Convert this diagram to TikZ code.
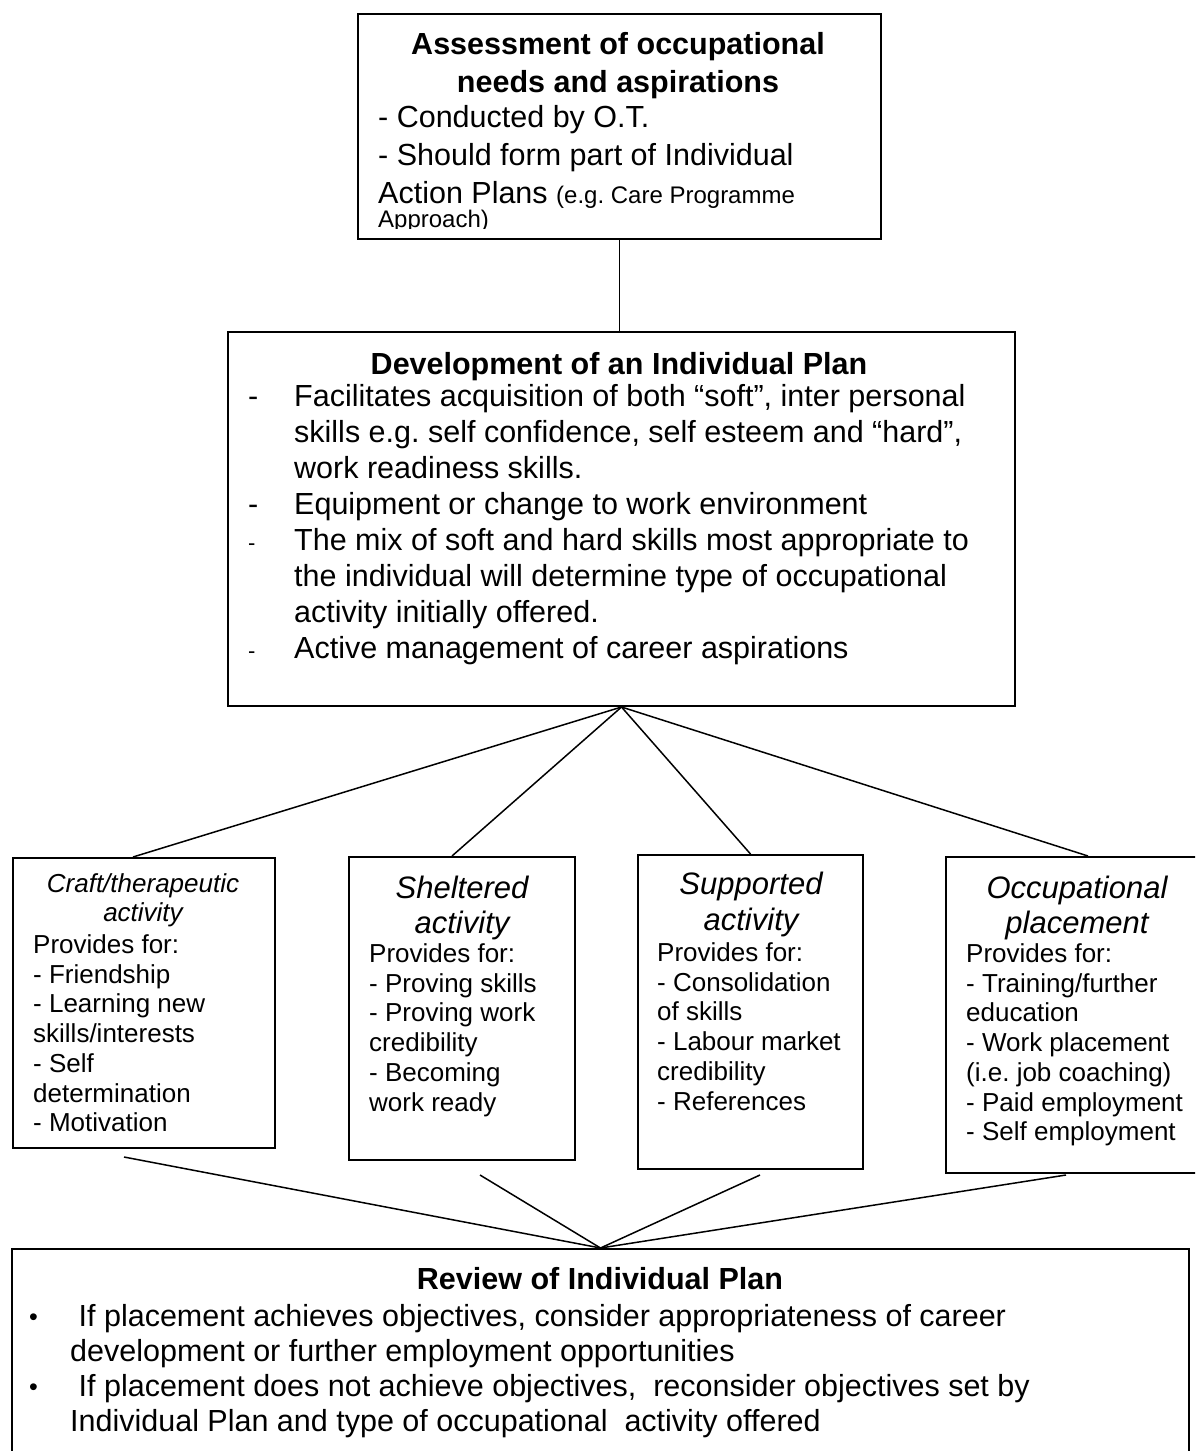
\documentclass[tikz,border=0pt]{standalone}
\usepackage{fontspec}
\setmainfont{Liberation Sans}
\usetikzlibrary{calc}
\frenchspacing

\begin{document}
\begin{tikzpicture}[x=1pt,y=-1pt,
		box/.style={draw,line width=2pt,inner sep=0,anchor=north west},
		wire/.style={line width=1.5pt},
		body/.style={anchor=base west,align=left,inner sep=0,font=\fontsize{30.5}{36}\selectfont},
		head/.style={anchor=base,align=center,inner sep=0,font=\bfseries\fontsize{30.5}{38}\selectfont},
		lines/.style={anchor=base west,align=left,inner sep=0,font=\fontsize{26}{29.7}\selectfont},
		kind/.style={anchor=base,align=center,inner sep=0,font=\itshape\fontsize{31}{35.5}\selectfont}]
		\useasboundingbox (0,0) rectangle (1195,1451);
		\clip (0,0) rectangle (1195,1451);

		% boxes
		\node[box,minimum width=523,minimum height=225] (assess) at (357,13) {};
		\node[box,minimum width=787,minimum height=374] (plan) at (227,331) {};
		\node[box,minimum width=262,minimum height=290] (craft) at (12,857) {};
		\node[box,minimum width=226,minimum height=303] (shelter) at (348,856) {};
		\node[box,minimum width=225,minimum height=314] (support) at (637,854) {};
		\node[box,minimum width=270,minimum height=316] (place) at (945,856) {};
		\node[box,minimum width=1177,minimum height=230] (review) at (11,1248) {};

		% assessment text, cut off by the box
		% (base of a text block = baseline of its last line)
		\begin{scope}
			\clip (357,13) rectangle (880,228);
			\node[head] (assesshead) at (618,92) {Assessment of occupational\\needs and aspirations};
			\node[body,font=\fontsize{30.5}{38}\selectfont] (assesstext) at (378,227)
				{- Conducted by O.T.\\- Should form part of Individual\\Action Plans {\fontsize{24}{29}\selectfont(e.g. Care Programme}\\[-14pt]{\fontsize{24}{29}\selectfont Approach)}};
		\end{scope}

		% plan text
		\node[head] (planhead) at (619,374) {Development of an Individual Plan};
		\node[body] (plandash) at (248,658) {-\\\mbox{}\\\mbox{}\\-\\{\fontsize{22}{22}\selectfont -}\\\mbox{}\\\mbox{}\\{\fontsize{22}{22}\selectfont -}};
		\node[body] (plantext) at (294,658) {Facilitates acquisition of both “soft”, inter personal\\skills e.g. self confidence, self esteem and “hard”,\\work readiness skills.\\Equipment or change to work environment\\The mix of soft and hard skills most appropriate to\\the individual will determine type of occupational\\activity initially offered.\\Active management of career aspirations};

		% activity boxes
		\node[kind,font=\itshape\fontsize{26}{29.5}\selectfont] (crafthead) at (143,921.5) {Craft/therapeutic\\activity};
		\node[lines] (crafttext) at (33,1131.7) {Provides for:\\- Friendship\\- Learning new\\skills/interests\\- Self\\determination\\- Motivation};

		\node[kind] (shelterhead) at (462,933.5) {Sheltered\\activity};
		\node[lines] (sheltertext) at (369,1111) {Provides for:\\- Proving skills\\- Proving work\\credibility\\- Becoming\\work ready};

		\node[kind,font=\itshape\fontsize{31}{36}\selectfont] (supporthead) at (751,930) {Supported\\activity};
		\node[lines] (supporttext) at (657,1110) {Provides for:\\- Consolidation\\of skills\\- Labour market\\credibility\\- References};

		\node[kind] (placehead) at (1077,933.5) {Occupational\\placement};
		\node[lines] (placetext) at (966,1140.7) {Provides for:\\- Training/further\\education\\- Work placement\\(i.e. job coaching)\\- Paid employment\\- Self employment};

		% review text
		\node[head] (reviewhead) at (600,1289) {Review of Individual Plan};
		\node[body,font=\fontsize{25}{35}\selectfont] (reviewdot) at (29,1395) {•\\\mbox{}\\•};
		\node[body,font=\fontsize{30.5}{35}\selectfont] (reviewtext) at (70,1431) {\ If placement achieves objectives, consider appropriateness of career\\development or further employment opportunities\\\ If placement does not achieve objectives,\ \ reconsider objectives set by\\Individual Plan and type of occupational\ \ activity offered};

		% connectors
		\draw[wire] (assess.south) -- (assess.south |- plan.north);
		\draw[wire] (plan.south) -- ($(craft.north)+(-11,0)$);
		\draw[wire] (plan.south) -- ($(shelter.north)+(-10,0)$);
		\draw[wire] (plan.south) -- (support.north);
		\draw[wire] (plan.south) -- ($(place.north)+(7,0)$);

		\coordinate (c1) at ($(craft.south)+(-20,8)$);
		\coordinate (c2) at ($(shelter.south)+(18,14)$);
		\coordinate (c3) at ($(support.south)+(9.5,5)$);
		\coordinate (c4) at ($(place.south)+(-15,1)$);
		\foreach \c in {c1,c2,c3,c4}
			\draw[wire] (\c) -- (review.north);
\end{tikzpicture}
\end{document}
